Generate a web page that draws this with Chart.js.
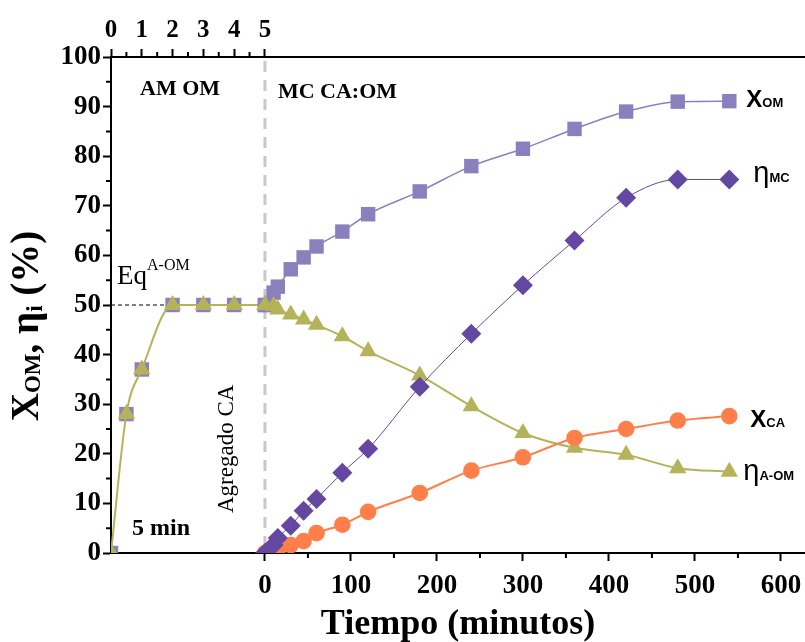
<!DOCTYPE html>
<html>
<head>
<meta charset="utf-8">
<title>Conversión y rendimiento</title>
<script src="https://cdn.jsdelivr.net/npm/chart.js@4.4.1/dist/chart.umd.min.js"></script>
<style>
  html, body { margin: 0; padding: 0; background: #fff; }
  #wrap { width: 805px; height: 642px; }
</style>
</head>
<body>
<div id="wrap"><canvas id="chart" width="805" height="642"></canvas></div>
<script>
// first stage (AM OM), minutes on the top axis
const leftTimes = [0, 0.5, 1, 2, 3, 4, 5];
const leftXom = [0, 28, 37, 50, 50, 50, 50];
const leftEta = [0, 28, 37, 50, 50, 50, 50];

// second stage (MC CA:OM), minutes on the bottom axis
const times = [0, 10, 15, 30, 45, 60, 90, 120, 180, 240, 300, 360, 420, 480, 540];
const xOM = [50, 52.5, 53.7, 57.2, 59.6, 61.8, 64.8, 68.3, 72.9, 78.0, 81.5, 85.5, 89.0, 91.0, 91.1];
const etaMC = [0, 1.6, 3.0, 5.5, 8.5, 10.9, 16.2, 21.0, 33.5, 44.2, 54.0, 63.0, 71.6, 75.3, 75.3];
const xCA = [0, 0.3, 0.7, 1.6, 2.4, 4.0, 5.7, 8.3, 12.1, 16.6, 19.3, 23.2, 25.0, 26.7, 27.6];
const etaAOM = [50, 49.8, 49.1, 48.1, 47.1, 46.0, 43.7, 40.7, 35.8, 29.6, 24.2, 21.2, 19.8, 17.1, 16.4];

const bottomTicks = [0, 100, 200, 300, 400, 500, 600];
const topTicks = [0, 1, 2, 3, 4, 5];
const bottomMinor = [50, 150, 250, 350, 450, 550];
const topMinor = [0.5, 1.5, 2.5, 3.5, 4.5];
const yMinor = [5, 15, 25, 35, 45, 55, 65, 75, 85, 95];
const eqLevel = 50;

const SERIF = '"Liberation Serif", "Times New Roman", serif';
const SANS = '"Liberation Sans", Arial, sans-serif';

const C_XOM = '#8a80be';
const C_MC = '#6447a0';
const C_CA = '#ff7f4a';
const C_AOM = '#b4b35a';

// bottom axis range; the top axis is stretched so its 5 min sits on t = 0
const xMin = -179, xMax = 628;
const topMax = 5 * (xMax - xMin) / (0 - xMin);

function pts(xs, ys) {
    return xs.map((x, i) => ({ x: x, y: ys[i] }));
}

function drawParts(ctx, x, y, parts) {
    let cx = x;
    parts.forEach(p => {
        ctx.font = p.f;
        ctx.fillText(p.t, cx, y + (p.dy || 0));
        cx += ctx.measureText(p.t).width;
    });
}

function partsWidth(ctx, parts) {
    let w = 0;
    parts.forEach(p => { ctx.font = p.f; w += ctx.measureText(p.t).width; });
    return w;
}

const minorTicks = {
    id: 'minorTicks',
    afterDraw(chart) {
        const { ctx, scales } = chart;
        ctx.save();
        ctx.strokeStyle = '#000';
        ctx.lineWidth = 2;
        ctx.beginPath();
        bottomMinor.forEach(v => {
            const px = scales.x.getPixelForValue(v);
            ctx.moveTo(px, scales.x.top);
            ctx.lineTo(px, scales.x.top + 5);
        });
        topMinor.forEach(v => {
            const px = scales.x2.getPixelForValue(v);
            ctx.moveTo(px, scales.x2.bottom);
            ctx.lineTo(px, scales.x2.bottom - 5);
        });
        yMinor.forEach(v => {
            const py = scales.y.getPixelForValue(v);
            ctx.moveTo(scales.y.right, py);
            ctx.lineTo(scales.y.right - 5, py);
        });
        ctx.stroke();
        ctx.restore();
    }
};

const guides = {
    id: 'guides',
    beforeDatasetsDraw(chart) {
        const { ctx, chartArea, scales } = chart;
        const x0 = scales.x.getPixelForValue(0);
        const yEq = scales.y.getPixelForValue(eqLevel);
        ctx.save();
        // addition of CA
        ctx.strokeStyle = '#c8c8c8';
        ctx.lineWidth = 3;
        ctx.setLineDash([11, 8]);
        ctx.beginPath();
        ctx.moveTo(x0, chartArea.top + 4);
        ctx.lineTo(x0, chartArea.bottom);
        ctx.stroke();
        // equilibrium
        ctx.strokeStyle = '#000';
        ctx.lineWidth = 1;
        ctx.setLineDash([4, 3]);
        ctx.beginPath();
        ctx.moveTo(chartArea.left, yEq);
        ctx.lineTo(x0, yEq);
        ctx.stroke();
        ctx.setLineDash([]);

        ctx.fillStyle = '#000';
        ctx.textBaseline = 'alphabetic';
        ctx.textAlign = 'left';
        ctx.font = 'bold 22px ' + SERIF;
        ctx.fillText('AM OM', chartArea.left + 29, chartArea.top + 38);
        ctx.fillText('MC CA:OM', x0 + 13, chartArea.top + 41);
        ctx.font = 'bold 24px ' + SERIF;
        ctx.fillText('5 min', chartArea.left + 21, chartArea.bottom - 18);
        drawParts(ctx, chartArea.left + 6, yEq - 21, [
            { t: 'Eq', f: '27px ' + SERIF },
            { t: 'A-OM', f: '16px ' + SERIF, dy: -14 }
        ]);
        ctx.save();
        ctx.translate(x0 - 32, scales.y.getPixelForValue(21));
        ctx.rotate(-Math.PI / 2);
        ctx.font = '23px ' + SERIF;
        ctx.textAlign = 'center';
        ctx.fillText('Agregado CA', 0, 0);
        ctx.restore();
        ctx.restore();
    },
    afterDraw(chart) {
        const { ctx, scales, chartArea } = chart;
        ctx.save();
        ctx.fillStyle = '#000';
        ctx.textBaseline = 'alphabetic';
        ctx.textAlign = 'left';

        // y axis title with subscripts
        const yParts = [
            { t: 'X', f: 'bold 39px ' + SERIF },
            { t: 'OM', f: 'bold 23px ' + SERIF, dy: 2 },
            { t: ', ', f: 'bold 39px ' + SERIF },
            { t: 'η', f: 'bold 39px ' + SERIF },
            { t: 'i', f: 'bold 23px ' + SERIF, dy: 4 },
            { t: ' (%)', f: 'bold 39px ' + SERIF }
        ];
        ctx.save();
        ctx.translate(38, (chartArea.top + chartArea.bottom) / 2 + 21);
        ctx.rotate(-Math.PI / 2);
        drawParts(ctx, -partsWidth(ctx, yParts) / 2, 0, yParts);
        ctx.restore();

        // series names next to the last points
        const last = times.length - 1;
        const px = scales.x.getPixelForValue(times[last]);
        const names = [
            { v: xOM[last], dx: 17, dy: 6, parts: [
                { t: 'X', f: 'bold 24px ' + SANS }, { t: 'OM', f: 'bold 13px ' + SANS }] },
            { v: etaMC[last], dx: 24, dy: 2, parts: [
                { t: 'η', f: '29px ' + SANS }, { t: 'MC', f: 'bold 13px ' + SANS }] },
            { v: xCA[last], dx: 21, dy: 11, parts: [
                { t: 'X', f: 'bold 24px ' + SANS }, { t: 'CA', f: 'bold 13px ' + SANS }] },
            { v: etaAOM[last], dx: 14, dy: 8, parts: [
                { t: 'η', f: '29px ' + SANS }, { t: 'A-OM', f: 'bold 13px ' + SANS }] }
        ];
        names.forEach(n => {
            drawParts(ctx, px + n.dx, scales.y.getPixelForValue(n.v) + n.dy, n.parts);
        });
        ctx.restore();
    }
};

const tickFont = { family: SERIF, size: 27, weight: 'bold' };
const axisGrid = { drawOnChartArea: false, drawTicks: true, tickLength: 8, tickWidth: 2, tickColor: '#000' };
const axisBorder = { display: true, color: '#000', width: 2 };

const ctx = document.getElementById('chart').getContext('2d');

const config = {
    type: 'line',
    data: {
        datasets: [
            {
                label: 'ηMC',
                data: pts(times, etaMC),
                xAxisID: 'x',
                borderColor: C_MC, backgroundColor: C_MC, borderWidth: 1,
                pointStyle: 'rectRot', pointRadius: 10, pointBorderWidth: 0,
                cubicInterpolationMode: 'monotone'
            },
            {
                label: 'XCA',
                data: pts(times, xCA),
                xAxisID: 'x',
                borderColor: C_CA, backgroundColor: C_CA, borderWidth: 2,
                pointStyle: 'circle', pointRadius: 8.3, pointBorderWidth: 0,
                cubicInterpolationMode: 'monotone'
            },
            {
                label: 'ηA-OM',
                data: pts(times, etaAOM),
                xAxisID: 'x',
                borderColor: C_AOM, backgroundColor: C_AOM, borderWidth: 2,
                pointStyle: 'triangle', pointRadius: 10, pointBorderWidth: 0,
                cubicInterpolationMode: 'monotone'
            },
            {
                label: 'XOM',
                data: pts(times, xOM),
                xAxisID: 'x',
                borderColor: C_XOM, backgroundColor: C_XOM, borderWidth: 1.5,
                pointStyle: 'rect', pointRadius: 10.2, pointBorderWidth: 0,
                cubicInterpolationMode: 'monotone'
            },
            {
                label: 'ηA-OM (AM OM)',
                data: pts(leftTimes, leftEta),
                xAxisID: 'x2',
                borderColor: C_AOM, backgroundColor: C_AOM, borderWidth: 2,
                pointStyle: 'triangle', pointRadius: 10, pointBorderWidth: 0,
                cubicInterpolationMode: 'monotone'
            },
            {
                label: 'XOM (AM OM)',
                data: pts(leftTimes, leftXom),
                xAxisID: 'x2',
                showLine: false,
                borderColor: C_XOM, backgroundColor: C_XOM,
                pointStyle: 'rect', pointRadius: 10.2, pointBorderWidth: 0
            }
        ]
    },
    options: {
        responsive: false,
        animation: false,
        layout: { autoPadding: false, padding: 0 },
        plugins: {
            legend: { display: false },
            tooltip: { enabled: false }
        },
        scales: {
            x: {
                type: 'linear', position: 'bottom', min: xMin, max: xMax,
                afterBuildTicks: s => { s.ticks = bottomTicks.map(v => ({ value: v })); },
                afterFit: s => { s.height = 89; s.paddingLeft = 0; s.paddingRight = 0; },
                grid: axisGrid,
                border: axisBorder,
                ticks: { color: '#000', font: tickFont, padding: 9, maxRotation: 0, autoSkip: false },
                title: {
                    display: true, text: 'Tiempo (minutos)', color: '#000',
                    font: { family: SERIF, size: 36, weight: 'bold' }, padding: { top: 0, bottom: -4 }
                }
            },
            x2: {
                type: 'linear', position: 'top', min: 0, max: topMax,
                afterBuildTicks: s => { s.ticks = topTicks.map(v => ({ value: v })); },
                afterFit: s => { s.height = 57; s.paddingLeft = 0; s.paddingRight = 0; },
                grid: axisGrid,
                border: axisBorder,
                ticks: { color: '#000', font: { family: SERIF, size: 25, weight: 'bold' }, padding: 3, maxRotation: 0, autoSkip: false }
            },
            y: {
                type: 'linear', position: 'left', min: 0, max: 100,
                afterFit: s => { s.width = 111; s.paddingTop = 0; s.paddingBottom = 0; },
                grid: axisGrid,
                border: axisBorder,
                ticks: { color: '#000', font: tickFont, stepSize: 10, padding: 2 }
            }
        }
    },
    plugins: [guides, minorTicks]
};

const chart = new Chart(ctx, config);
</script>
</body>
</html>
